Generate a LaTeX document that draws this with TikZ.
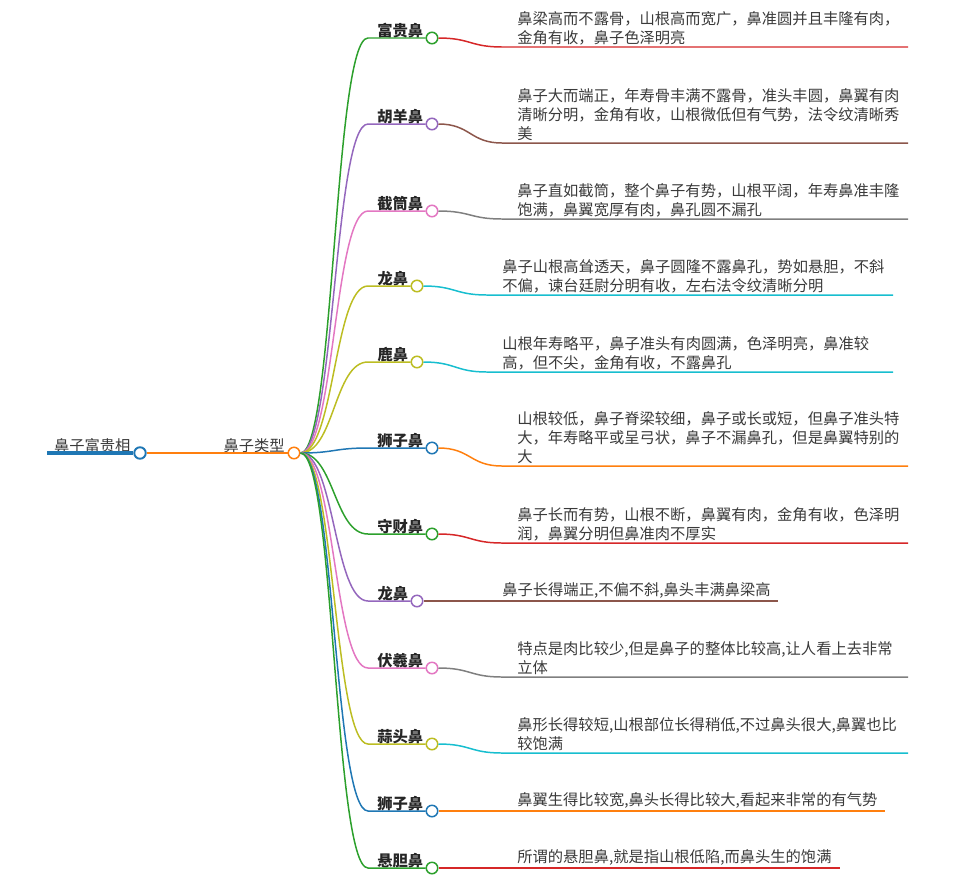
\documentclass[tikz,border=0pt]{standalone}
\usepackage{fontspec}
\setmainfont{Noto Sans CJK SC}
\usetikzlibrary{positioning,calc}
\definecolor{TBlue}{HTML}{1F77B4}
\definecolor{TOrange}{HTML}{FF7F0E}
\definecolor{TGreen}{HTML}{2CA02C}
\definecolor{TRed}{HTML}{D62728}
\definecolor{TPurple}{HTML}{9467BD}
\definecolor{TBrown}{HTML}{8C564B}
\definecolor{TPink}{HTML}{E377C2}
\definecolor{TGrey}{HTML}{7F7F7F}
\definecolor{TOlive}{HTML}{BCBD22}
\definecolor{TCyan}{HTML}{17BECF}
\definecolor{Ink}{HTML}{3A3A3A}
\newcommand{\Txt}{\fontsize{8.7}{10.8}\selectfont}
\tikzset{
  bud/.style={circle, draw=#1, fill=white, line width=0.85pt, minimum size=2.3mm, inner sep=0pt},
  tag/.style={font=\Txt\bfseries, text=black!85, inner sep=0pt},
  blurb/.style={font=\Txt, text=Ink, align=left, inner sep=0pt},
  wire/.style={line width=0.85pt, #1},
}

\begin{document}
\begin{tikzpicture}[x=0.02cm, y=-0.02cm]
  \useasboundingbox (0,0) rectangle (970,876);

  % root and hub
  \coordinate (start) at (47,453);
  \node[bud=TBlue, line width=1.1pt] (rootdot) at (140,453) {};
  \node[blurb, above left=0mm and 0.5mm of rootdot.west] (root) {鼻子富贵相};
  \node[bud=TOrange] (hub) at (294,453) {};
  \node[blurb, above left=0mm and 0.5mm of hub.west] (kind) {鼻子类型};
  \draw[wire=TBlue, line width=1.9pt] (start) -- (rootdot.west);
  \draw[wire=TOrange, line width=1.2pt] (rootdot.east) -- (hub.west);

  % 1
  \coordinate (k1) at (368,38);
  \node[bud=TGreen] (d1) at (432,38) {};
  \node[tag, above left=0mm and 0.4mm of d1.west] (l1) {富贵鼻};
  \coordinate (u1) at (502,47);
  \coordinate (e1) at (908,47);
  \node[blurb, above right=0.4mm and 3mm of u1] (t1)
    {鼻梁高而不露骨，山根高而宽广，鼻准圆并且丰隆有肉，\\金角有收，鼻子色泽明亮};
  \draw[wire=TGreen] (hub.east) .. controls +(34,0) and +(-34,0) .. (k1) -- (d1.west);
  \draw[wire=TRed] (d1.east) .. controls +(32,0) and +(-32,0) .. (u1) -- (e1);

  % 2
  \coordinate (k2) at (368,124);
  \node[bud=TPurple] (d2) at (432,124) {};
  \node[tag, above left=0mm and 0.4mm of d2.west] (l2) {胡羊鼻};
  \coordinate (u2) at (502,143);
  \coordinate (e2) at (908,143);
  \node[blurb, above right=0.4mm and 3mm of u2] (t2)
    {鼻子大而端正，年寿骨丰满不露骨，准头丰圆，鼻翼有肉\\清晰分明，金角有收，山根微低但有气势，法令纹清晰秀\\美};
  \draw[wire=TPurple] (hub.east) .. controls +(34,0) and +(-34,0) .. (k2) -- (d2.west);
  \draw[wire=TBrown] (d2.east) .. controls +(32,0) and +(-32,0) .. (u2) -- (e2);

  % 3
  \coordinate (k3) at (368,211);
  \node[bud=TPink] (d3) at (432,211) {};
  \node[tag, above left=0mm and 0.4mm of d3.west] (l3) {截筒鼻};
  \coordinate (u3) at (502,219);
  \coordinate (e3) at (908,219);
  \node[blurb, above right=0.4mm and 3mm of u3] (t3)
    {鼻子直如截筒，整个鼻子有势，山根平阔，年寿鼻准丰隆\\饱满，鼻翼宽厚有肉，鼻孔圆不漏孔};
  \draw[wire=TPink] (hub.east) .. controls +(34,0) and +(-34,0) .. (k3) -- (d3.west);
  \draw[wire=TGrey] (d3.east) .. controls +(32,0) and +(-32,0) .. (u3) -- (e3);

  % 4
  \coordinate (k4) at (368,286);
  \node[bud=TOlive] (d4) at (417,286) {};
  \node[tag, above left=0mm and 0.4mm of d4.west] (l4) {龙鼻};
  \coordinate (u4) at (487,295);
  \coordinate (e4) at (893,295);
  \node[blurb, above right=0.4mm and 3mm of u4] (t4)
    {鼻子山根高耸透天，鼻子圆隆不露鼻孔，势如悬胆，不斜\\不偏，谏台廷尉分明有收，左右法令纹清晰分明};
  \draw[wire=TOlive] (hub.east) .. controls +(34,0) and +(-34,0) .. (k4) -- (d4.west);
  \draw[wire=TCyan] (d4.east) .. controls +(32,0) and +(-32,0) .. (u4) -- (e4);

  % 5
  \coordinate (k5) at (368,362);
  \node[bud=TOlive] (d5) at (417,362) {};
  \node[tag, above left=0mm and 0.4mm of d5.west] (l5) {鹿鼻};
  \coordinate (u5) at (487,372);
  \coordinate (e5) at (893,372);
  \node[blurb, above right=0.4mm and 3mm of u5] (t5)
    {山根年寿略平，鼻子准头有肉圆满，色泽明亮，鼻准较\\高，但不尖，金角有收，不露鼻孔};
  \draw[wire=TOlive] (hub.east) .. controls +(34,0) and +(-34,0) .. (k5) -- (d5.west);
  \draw[wire=TCyan] (d5.east) .. controls +(32,0) and +(-32,0) .. (u5) -- (e5);

  % 6
  \coordinate (k6) at (368,448);
  \node[bud=TBlue] (d6) at (432,448) {};
  \node[tag, above left=0mm and 0.4mm of d6.west] (l6) {狮子鼻};
  \coordinate (u6) at (502,466);
  \coordinate (e6) at (908,466);
  \node[blurb, above right=0.4mm and 3mm of u6] (t6)
    {山根较低，鼻子脊梁较细，鼻子或长或短，但鼻子准头特\\大，年寿略平或呈弓状，鼻子不漏鼻孔，但是鼻翼特别的\\大};
  \draw[wire=TBlue] (hub.east) .. controls +(34,0) and +(-34,0) .. (k6) -- (d6.west);
  \draw[wire=TOrange] (d6.east) .. controls +(32,0) and +(-32,0) .. (u6) -- (e6);

  % 7
  \coordinate (k7) at (368,534);
  \node[bud=TGreen] (d7) at (432,534) {};
  \node[tag, above left=0mm and 0.4mm of d7.west] (l7) {守财鼻};
  \coordinate (u7) at (502,543);
  \coordinate (e7) at (908,543);
  \node[blurb, above right=0.4mm and 3mm of u7] (t7)
    {鼻子长而有势，山根不断，鼻翼有肉，金角有收，色泽明\\润，鼻翼分明但鼻准肉不厚实};
  \draw[wire=TGreen] (hub.east) .. controls +(34,0) and +(-34,0) .. (k7) -- (d7.west);
  \draw[wire=TRed] (d7.east) .. controls +(32,0) and +(-32,0) .. (u7) -- (e7);

  % 8
  \coordinate (k8) at (368,601);
  \node[bud=TPurple] (d8) at (417,601) {};
  \node[tag, above left=0mm and 0.4mm of d8.west] (l8) {龙鼻};
  \coordinate (u8) at (487,601);
  \coordinate (e8) at (778,601);
  \node[blurb, above right=0.4mm and 3mm of u8] (t8)
    {鼻子长得端正,不偏不斜,鼻头丰满鼻梁高};
  \draw[wire=TPurple] (hub.east) .. controls +(34,0) and +(-34,0) .. (k8) -- (d8.west);
  \draw[wire=TBrown] (d8.east) -- (u8) -- (e8);

  % 9
  \coordinate (k9) at (368,668);
  \node[bud=TPink] (d9) at (432,668) {};
  \node[tag, above left=0mm and 0.4mm of d9.west] (l9) {伏羲鼻};
  \coordinate (u9) at (502,677);
  \coordinate (e9) at (908,677);
  \node[blurb, above right=0.4mm and 3mm of u9] (t9)
    {特点是肉比较少,但是鼻子的整体比较高,让人看上去非常\\立体};
  \draw[wire=TPink] (hub.east) .. controls +(34,0) and +(-34,0) .. (k9) -- (d9.west);
  \draw[wire=TGrey] (d9.east) .. controls +(32,0) and +(-32,0) .. (u9) -- (e9);

  % 10
  \coordinate (k10) at (368,744);
  \node[bud=TOlive] (d10) at (432,744) {};
  \node[tag, above left=0mm and 0.4mm of d10.west] (l10) {蒜头鼻};
  \coordinate (u10) at (502,753);
  \coordinate (e10) at (908,753);
  \node[blurb, above right=0.4mm and 3mm of u10] (t10)
    {鼻形长得较短,山根部位长得稍低,不过鼻头很大,鼻翼也比\\较饱满};
  \draw[wire=TOlive] (hub.east) .. controls +(34,0) and +(-34,0) .. (k10) -- (d10.west);
  \draw[wire=TCyan] (d10.east) .. controls +(32,0) and +(-32,0) .. (u10) -- (e10);

  % 11
  \coordinate (k11) at (368,811);
  \node[bud=TBlue] (d11) at (432,811) {};
  \node[tag, above left=0mm and 0.4mm of d11.west] (l11) {狮子鼻};
  \coordinate (u11) at (502,811);
  \coordinate (e11) at (885,811);
  \node[blurb, above right=0.4mm and 3mm of u11] (t11)
    {鼻翼生得比较宽,鼻头长得比较大,看起来非常的有气势};
  \draw[wire=TBlue] (hub.east) .. controls +(34,0) and +(-34,0) .. (k11) -- (d11.west);
  \draw[wire=TOrange] (d11.east) -- (u11) -- (e11);

  % 12
  \coordinate (k12) at (368,868);
  \node[bud=TGreen] (d12) at (432,868) {};
  \node[tag, above left=0mm and 0.4mm of d12.west] (l12) {悬胆鼻};
  \coordinate (u12) at (502,868);
  \coordinate (e12) at (840,868);
  \node[blurb, above right=0.4mm and 3mm of u12] (t12)
    {所谓的悬胆鼻,就是指山根低陷,而鼻头生的饱满};
  \draw[wire=TGreen] (hub.east) .. controls +(34,0) and +(-34,0) .. (k12) -- (d12.west);
  \draw[wire=TRed] (d12.east) -- (u12) -- (e12);
\end{tikzpicture}
\end{document}
